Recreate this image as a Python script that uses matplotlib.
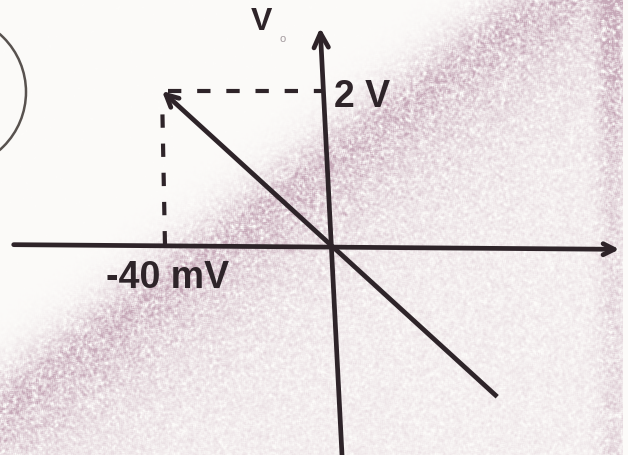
import numpy as np
import matplotlib
matplotlib.use("Agg")
import matplotlib.pyplot as plt
from matplotlib.patches import Circle

# transfer characteristic: input in mV, output in V
v_in = [-40.0, 0.0, 38.4]
v_out = [2.0, 0.0, -1.92]

# marked point and its labels
peak_in = -40.0
peak_out = 2.0
x_label = "-40 mV"
y_label = "2 V"
out_name = "V"

# axis extents (drawn slightly skewed, like a hand sketch)
h_axis_x = [-74.7, 67.0]
h_axis_y = [0.03, -0.03]
v_axis_x = [2.1, -3.0]
v_axis_y = [-2.67, 2.81]

W, H = 628, 456
ink = "#2e2429"


def smooth(a, k):
    # cheap box blur along both axes
    for ax_ in (0, 1):
        acc = np.zeros_like(a)
        for s in range(-k, k + 1):
            acc += np.roll(a, s, ax_)
        a = acc / (2 * k + 1)
    return a


# ---- paper background with pink diagonal haze ----
yy, xx = np.mgrid[0:H, 0:W].astype(float)
d = (xx * 390 + yy * 520 - 390 * 520) / 650.0
edge = 1.0 / (1.0 + np.exp(-(d + 4) / 13.0))
band = edge * (0.14 + 0.58 * np.exp(-np.clip(d - 14, 0, None) / 50.0))
band += 0.45 * np.exp(-((xx - 612) / 14.0) ** 2) * np.clip(1.2 - yy / 300, 0.4, 1)

rng = np.random.default_rng(7)
grain = smooth(rng.normal(size=(H, W)), 1) * 1.9
band = np.clip(band * (1 + 0.6 * grain), 0, 1)
band[:, 623:] = 0

paper = np.array([252, 251, 249]) / 255.0
haze = np.array([198, 168, 184]) / 255.0
img = paper * (1 - band[..., None]) + haze * band[..., None]

fig = plt.figure(figsize=(W / 100, H / 100), dpi=100)
bg = fig.add_axes([0, 0, 1, 1])
bg.imshow(img, extent=(0, W, H, 0), aspect="auto", interpolation="bilinear")
bg.add_patch(Circle((-51, 93), 77, fill=False, lw=1.8, color="#58524f"))
bg.set_xlim(0, W)
bg.set_ylim(H, 0)
bg.axis("off")

# ---- the characteristic itself ----
ax = fig.add_axes([0, 0, 1, 1])
ax.patch.set_alpha(0)
ax.set_xlim(-77.9, 69.0)
ax.set_ylim(-2.667, 3.18)
ax.axis("off")

arrow = dict(arrowstyle="->", lw=3.4, color=ink, shrinkA=0, shrinkB=0)
ax.annotate("", xy=(h_axis_x[1], h_axis_y[1]), xytext=(h_axis_x[0], h_axis_y[0]),
            arrowprops=dict(arrow, mutation_scale=20))
ax.annotate("", xy=(v_axis_x[1], v_axis_y[1]), xytext=(v_axis_x[0], v_axis_y[0]),
            arrowprops=dict(arrow, mutation_scale=26))

ax.plot(v_in[1:], v_out[1:], color=ink, lw=3.4, solid_capstyle="butt")
ax.annotate("", xy=(v_in[0], v_out[0]), xytext=(v_in[1], v_out[1]),
            arrowprops=dict(arrow, mutation_scale=22))

ax.plot([peak_in + 1.5, -2.6], [peak_out, peak_out], color=ink, lw=3,
        ls=(0, (3.2, 3.8)))
ax.plot([peak_in + 0.1, peak_in + 0.7], [peak_out - 0.3, 0], color=ink, lw=3,
        ls=(0, (3.2, 3.8)))

font = dict(family="Liberation Sans", weight="bold", color=ink)
ax.text(0.2, peak_out - 0.06, y_label, fontsize=27, ha="left", va="center", **font)
ax.text(peak_in + 1.2, -0.38, x_label, fontsize=27, ha="center", va="center", **font)
ax.text(-16.8, 2.9, out_name, fontsize=23, ha="center", va="center", **font)
ax.text(-11.9, 2.68, "o", fontsize=8, ha="center", va="center",
        family="Liberation Sans", color="#a39a9e")

fig.savefig("out.png", dpi=100)
